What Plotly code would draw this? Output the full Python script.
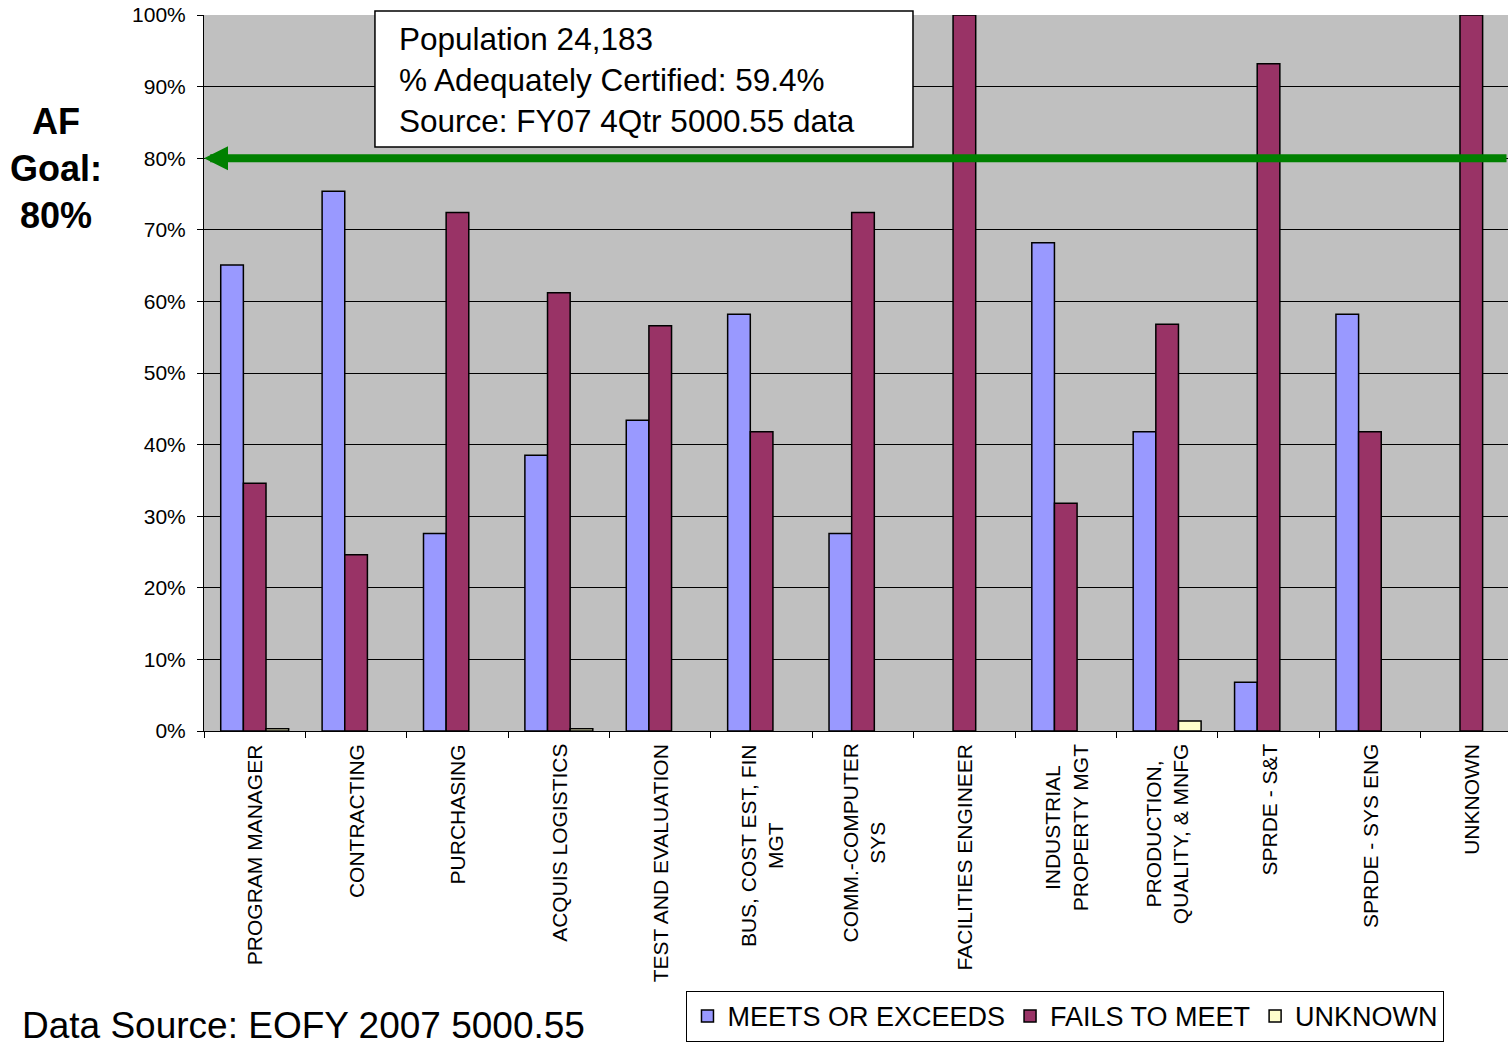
import plotly.graph_objects as go

# Career field names (line breaks mark the wrapped axis labels)
categories = [
    "PROGRAM MANAGER",
    "CONTRACTING",
    "PURCHASING",
    "ACQUIS LOGISTICS",
    "TEST AND EVALUATION",
    "BUS, COST EST, FIN<br>MGT",
    "COMM.-COMPUTER<br>SYS",
    "FACILITIES ENGINEER",
    "INDUSTRIAL<br>PROPERTY MGT",
    "PRODUCTION,<br>QUALITY, & MNFG",
    "SPRDE - S&T",
    "SPRDE - SYS ENG",
    "UNKNOWN",
]

# Share of workforce per certification status, in percent
meets = [65.1, 75.4, 27.6, 38.5, 43.4, 58.2, 27.6, None, 68.2, 41.8, 6.8, 58.2, None]
fails = [34.6, 24.6, 72.4, 61.2, 56.6, 41.8, 72.4, 100.0, 31.8, 56.8, 93.2, 41.8, 100.0]
unknown = [0.3, None, None, 0.3, None, None, None, None, None, 1.4, None, None, None]

goal = 80
y_ticks = list(range(0, 101, 10))
y_tick_text = [f"{v}%" for v in y_ticks]

FONT = "Arial, Liberation Sans, sans-serif"

fig = go.Figure()
series = [
    ("MEETS OR EXCEEDS", meets, "#9999FF"),
    ("FAILS TO MEET", fails, "#993366"),
    ("UNKNOWN", unknown, "#FFFFCC"),
]
for name, vals, color in series:
    fig.add_trace(go.Bar(
        x=categories, y=vals, name=name,
        marker=dict(color=color, line=dict(color="black", width=1.5)),
    ))

annotations = []

# Category labels, rotated and centered line by line under each group
for cat in categories:
    annotations.append(dict(
        x=cat, xref="x", y=0, yref="paper", yshift=-11,
        text=cat, textangle=-90, showarrow=False,
        xanchor="center", yanchor="top", align="center",
        font=dict(family=FONT, size=21, color="black"),
    ))

# Goal line with arrowhead pointing at the axis
annotations.append(dict(
    x=0, xref="paper", y=goal, yref="y",
    ax=1304, ay=0, axref="pixel", ayref="pixel",
    text="", showarrow=True,
    arrowhead=2, arrowsize=0.6, arrowwidth=8, arrowcolor="#008000",
))

# Summary text inside the white box
annotations.append(dict(
    x=0.148, xref="paper", y=0.909, yref="paper",
    xanchor="left", yanchor="middle", align="left",
    text="Population 24,183<br>% Adequately Certified: 59.4%<br>Source: FY07 4Qtr 5000.55 data",
    showarrow=False,
    font=dict(family=FONT, size=31.5, color="black"),
))

# Goal caption
annotations.append(dict(
    x=-0.1135, xref="paper", y=0.786, yref="paper",
    xanchor="center", yanchor="middle", align="center",
    text="<b>AF<br>Goal:<br>80%</b>", showarrow=False,
    font=dict(family=FONT, size=36, color="black"),
))

# Footer source note
annotations.append(dict(
    x=-0.1411, xref="paper", y=-0.412, yref="paper",
    xanchor="left", yanchor="middle",
    text="Data Source: EOFY 2007 5000.55", showarrow=False,
    font=dict(family=FONT, size=37, color="black"),
))

fig.update_layout(
    width=1508, height=1046,
    margin=dict(l=204, r=0, t=15, b=315),
    paper_bgcolor="white", plot_bgcolor="#C0C0C0",
    barmode="group", bargap=0.33, bargroupgap=0,
    font=dict(family=FONT, color="black"),
    showlegend=True,
    legend=dict(
        orientation="h", x=0.37, xanchor="left", y=-0.363, yanchor="top",
        bgcolor="white", bordercolor="black", borderwidth=1,
        font=dict(family=FONT, size=27, color="black"),
        itemwidth=30, tracegroupgap=0,
    ),
    shapes=[dict(
        type="rect", xref="paper", yref="paper",
        x0=0.1311, x1=0.5437, y0=0.8156, y1=1.0056,
        fillcolor="white", line=dict(color="black", width=1.5), layer="above",
    )],
    annotations=annotations,
)

# The last category runs slightly past the right edge of the canvas
fig.update_xaxes(
    type="category", tickson="boundaries", showticklabels=False,
    range=[-0.5, 12.362],
    ticks="outside", ticklen=6, tickcolor="black",
    showline=True, linecolor="black", linewidth=1, showgrid=False,
)
fig.update_yaxes(
    range=[0, 100], tickvals=y_ticks, ticktext=y_tick_text,
    ticks="outside", ticklen=6, tickcolor="black", ticklabelstandoff=7,
    showline=True, linecolor="black", linewidth=1,
    showgrid=True, gridcolor="black", gridwidth=1, zeroline=False,
    tickfont=dict(family=FONT, size=21, color="black"),
)

fig.write_html("out.html")
